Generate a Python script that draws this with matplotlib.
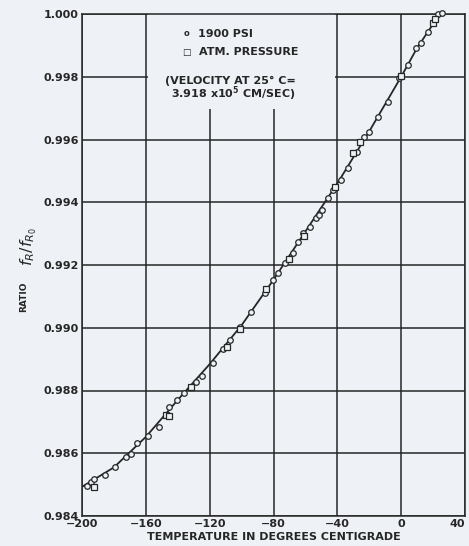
import matplotlib
matplotlib.use("Agg")
import matplotlib.pyplot as plt
from matplotlib.patches import Rectangle

# smooth curve
curve_t = [-200, -180, -160, -140, -120, -100, -80, -60, -40, -20, 0, 10, 20, 25]
curve_r = [0.98493, 0.98555, 0.98652, 0.98770, 0.98884, 0.99008, 0.99153,
           0.99307, 0.99460, 0.99626, 0.99800, 0.99892, 0.99968, 1.00000]

# 1900 PSI (circles)
psi_t = [-196.7, -194.2, -192.2, -185.9, -179.6, -172.3, -169.2, -165.4, -158.7,
         -152.0, -145.2, -140.4, -135.8, -128.4, -124.9, -118.0, -111.7, -107.0,
         -101.3, -94.0, -85.6, -80.4, -77.3, -73.1, -67.9, -64.7, -61.6, -57.4,
         -53.3, -51.8, -49.7, -45.9, -42.8, -37.6, -33.4, -27.6, -23.0, -19.9,
         -14.6, -8.3, -1.1, 4.2, 9.4, 12.5, 17.1, 23.0, 25.5]
psi_r = [0.98496, 0.98509, 0.98517, 0.98531, 0.98555, 0.98587, 0.98598, 0.98632,
         0.98655, 0.98685, 0.98748, 0.98770, 0.98791, 0.98828, 0.98846, 0.98887,
         0.98931, 0.98961, 0.99003, 0.99051, 0.99110, 0.99152, 0.99173, 0.99205,
         0.99237, 0.99274, 0.99301, 0.99322, 0.99349, 0.99359, 0.99375, 0.99413,
         0.99439, 0.99471, 0.99508, 0.99561, 0.99609, 0.99625, 0.99673, 0.99720,
         0.99795, 0.99837, 0.99891, 0.99907, 0.99944, 1.00000, 1.00004]

# atmospheric pressure (squares)
atm_t = [-192.6, -147.2, -145.6, -131.6, -109.0, -100.7, -84.6, -70.0, -61.0,
         -41.4, -30.3, -25.5, 0.0, 19.9, 20.9]
atm_r = [0.98493, 0.98722, 0.98719, 0.98812, 0.98938, 0.98995, 0.99122, 0.99218,
         0.99292, 0.99448, 0.99556, 0.99593, 0.99802, 0.99970, 0.99983]

x_ticks = [-200, -160, -120, -80, -40, 0, 40]
y_ticks = [0.984, 0.986, 0.988, 0.990, 0.992, 0.994, 0.996, 0.998, 1.000]

W, H = 469, 546
paper = "#eef2f6"
ink = "#262626"

plt.rcParams["font.family"] = "DejaVu Sans"
txt = dict(fontsize=8, fontweight="bold", color=ink)

fig = plt.figure(figsize=(W / 100, H / 100), dpi=100, facecolor=paper)
ax = fig.add_axes([82 / W, 1 - 516 / H, (465 - 82) / W, (516 - 14) / H])
ax.set_facecolor(paper)

ax.set_xlim(-200, 40)
ax.set_ylim(0.984, 1.000)
ax.set_xticks(x_ticks)
ax.set_xticklabels(["\u2212%d" % -v if v < 0 else "%d" % v for v in x_ticks], **txt)
ax.set_yticks(y_ticks)
ax.set_yticklabels(["%.3f" % v for v in y_ticks], **txt)
ax.tick_params(length=0, pad=2.5)
ax.get_xticklabels()[-1].set_horizontalalignment("right")
ax.grid(True, color=ink, linewidth=1.1)
ax.set_axisbelow(True)
for s in ax.spines.values():
    s.set_color(ink)
    s.set_linewidth(1.1)

# blank patch behind the key text
ax.add_patch(Rectangle((-158.5, 0.99697), 117, 0.0031, facecolor=paper,
                       edgecolor="none", zorder=1))

ax.plot(curve_t, curve_r, color=ink, linewidth=1.3, zorder=2)
ax.plot(psi_t, psi_r, "o", markersize=4, markerfacecolor=paper,
        markeredgecolor=ink, markeredgewidth=0.9, zorder=3, clip_on=False)
ax.plot(atm_t, atm_r, "s", markersize=3.8, markerfacecolor=paper,
        markeredgecolor=ink, markeredgewidth=0.9, zorder=3, clip_on=False)


def fx(px):
    return px / W


def fy(py):
    return 1 - py / H


# key
fig.text(fx(186.5), fy(34), "o", fontsize=6, fontweight="bold", ha="center", va="center", color=ink)
fig.text(fx(186.5), fy(52), "\u25a1", fontsize=6.5, ha="center", va="center", color=ink)
fig.text(fx(198), fy(34), "1900 PSI", va="center", **txt)
fig.text(fx(199), fy(52), "ATM. PRESSURE", va="center", **txt)
fig.text(fx(165), fy(81), "(VELOCITY AT 25\u00b0 C=", va="center", **txt)
fig.text(fx(171), fy(94), r"3.918 x10$^\mathbf{5}$ CM/SEC)", va="center", **txt)

ax.set_xlabel("TEMPERATURE IN DEGREES CENTIGRADE", labelpad=2, **txt)
# y label: small "RATIO" then a larger symbol part
fig.text(fx(24), fy(297), "RATIO", fontsize=6.5, fontweight="bold", rotation=90,
         ha="center", va="center", color=ink)
fig.text(fx(29), fy(246), r"$f_R/f_{R_0}$", fontsize=11.5, rotation=90,
         ha="center", va="center", color=ink)

fig.savefig("out.png", dpi=100, facecolor=paper)
